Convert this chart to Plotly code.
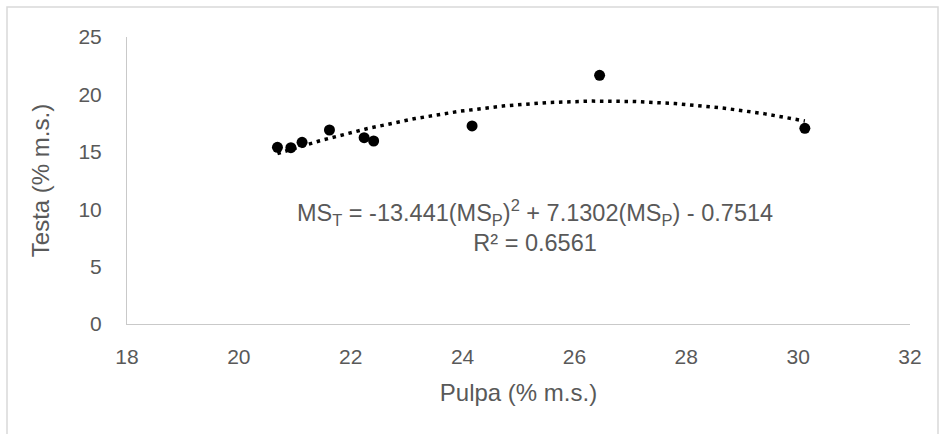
import numpy as np
import plotly.graph_objects as go

# Data
pulpa = [20.69, 20.93, 21.13, 21.62, 22.24, 22.41, 24.17, 26.45, 30.12]
testa = [15.39, 15.36, 15.83, 16.90, 16.23, 15.94, 17.25, 21.66, 17.05]

# Trendline coefficients as printed (fractions): MS_T = a*MS_P^2 + b*MS_P + c
coef = [-13.441, 7.1302, -0.7514]
r2_label = "0.6561"

x_ticks = [18, 20, 22, 24, 26, 28, 30, 32]
y_ticks = [0, 5, 10, 15, 20, 25]

xs = np.linspace(min(pulpa), max(pulpa), 200)
fx = xs / 100.0
ys = (coef[0] * fx**2 + coef[1] * fx + coef[2]) * 100.0

TXT = "#595959"
FONT = "Liberation Sans, Arial, sans-serif"

fig = go.Figure()
fig.add_trace(go.Scatter(
    x=xs, y=ys, mode="lines",
    line=dict(color="black", width=3.5, dash="3.5px,4.7px"),
    hoverinfo="skip", showlegend=False,
))
fig.add_trace(go.Scatter(
    x=pulpa, y=testa, mode="markers",
    marker=dict(color="black", size=11),
    showlegend=False,
))

fig.add_annotation(
    x=25.3, y=8.55, xref="x", yref="y",
    text=("MS<sub>T</sub> = -13.441(MS<sub>P</sub>)<sup>2</sup> + 7.1302(MS<sub>P</sub>) - 0.7514"
          "<br>R² = " + r2_label),
    showarrow=False, align="center",
    font=dict(family=FONT, size=23.5, color=TXT),
)

# Outer chart border
L, R, T, B = 127, 910, 37, 324
W, H = R - L, B - T
def px2x(p): return (p - L) / W
def py2y(p): return (B - p) / H
fig.add_shape(type="rect", xref="paper", yref="paper",
              x0=px2x(7), x1=px2x(938), y0=py2y(445), y1=py2y(7),
              line=dict(color="#d9d9d9", width=1.5), layer="below")

fig.update_layout(
    width=943, height=434,
    margin=dict(l=L, r=943 - R, t=T, b=434 - B),
    paper_bgcolor="white", plot_bgcolor="white",
    font=dict(family=FONT, color=TXT, size=21),
    xaxis=dict(
        range=[18, 32], tickvals=x_ticks, showgrid=False, zeroline=False,
        showline=True, linecolor="#c9c9c9", linewidth=1, ticks="",
        ticklabelstandoff=14,
        tickfont=dict(size=21, color=TXT),
        title=dict(text="Pulpa (% m.s.)", font=dict(size=24, color=TXT), standoff=16),
    ),
    yaxis=dict(
        range=[0, 25], tickvals=y_ticks, showgrid=False, zeroline=False,
        showline=True, linecolor="#c9c9c9", linewidth=1, ticks="",
        ticklabelstandoff=20,
        tickfont=dict(size=21, color=TXT),
        title=dict(text="Testa (% m.s.)", font=dict(size=24, color=TXT), standoff=22),
    ),
)

fig.write_html("out.html")
